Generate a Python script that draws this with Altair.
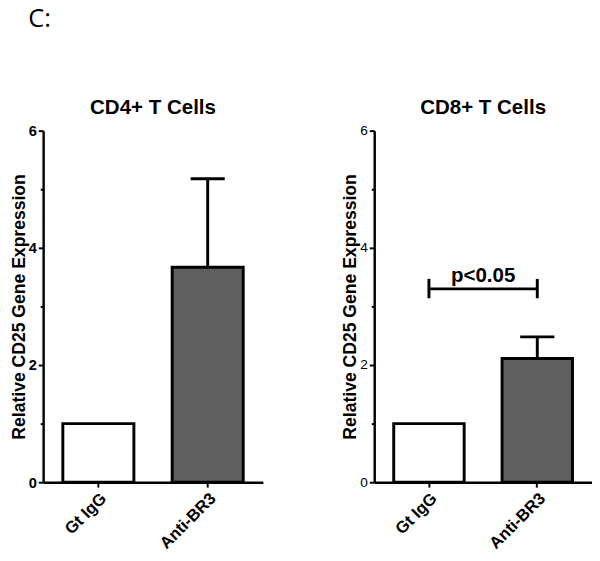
import altair as alt
import pandas as pd

# ---- data ----
categories = ["Gt IgG", "Anti-BR3"]
bar_fill = ["#ffffff", "#5f5f5f"]
cd4_mean = [1.0, 3.67]
cd4_upper = [1.0, 5.18]
cd8_mean = [1.0, 2.11]
cd8_upper = [1.0, 2.48]
y_ticks = [0, 1, 2, 3, 4, 5, 6]
sig_label = ["p<0.05"]
sig_y = [3.30]
sig_y_lo = [3.14]
sig_y_hi = [3.47]
sig_text_y = [3.42]

FONT = "Liberation Sans"
W_LEFT, W_RIGHT, H = 225, 223, 360


def panel(title, means, uppers, width, lab_weight, lab_size, sig=False):
    df = pd.DataFrame({"group": categories, "mean": means,
                       "upper": uppers, "fill": bar_fill})
    xscale = alt.Scale(paddingInner=0.35, paddingOuter=0.18)
    xaxis = alt.Axis(title=None, labelAngle=-45, labelFontSize=17,
                     labelFontWeight="bold", labelFont=FONT, labelColor="black",
                     tickColor="black", tickWidth=2, tickSize=5,
                     domainColor="black", domainWidth=2.5, labelPadding=3)
    yaxis = alt.Axis(title="Relative CD25 Gene Expression", values=y_ticks,
                     labelExpr="datum.value % 2 == 0 ? datum.label : ''",
                     tickSize={"condition": {"test": "datum.value % 2 == 1", "value": 3}, "value": 5},
                     labelFontSize=lab_size,
                     tickColor="black", tickWidth=2, domainColor="black",
                     domainWidth=2.5, labelFont=FONT,
                     labelFontWeight=lab_weight, labelColor="black", labelPadding=2,
                     titleFont=FONT, titleFontSize=18, titleFontWeight="bold",
                     titleColor="black", titlePadding=0, grid=False)
    yscale = alt.Scale(domain=[0, 6], nice=False)
    base = alt.Chart(df)
    x_enc = alt.X("group:N", sort=categories, scale=xscale, axis=xaxis)
    bars = base.mark_bar(stroke="black", strokeWidth=3).encode(
        x=x_enc,
        y=alt.Y("mean:Q", scale=yscale, axis=yaxis),
        fill=alt.Fill("fill:N", scale=None),
    )
    with_err = base.transform_filter("datum.upper > datum.mean")
    err = with_err.mark_rule(color="black", strokeWidth=3).encode(
        x=x_enc, y=alt.Y("mean:Q", scale=yscale, axis=yaxis), y2="upper:Q")
    cap = with_err.mark_tick(color="black", size=35, thickness=3, opacity=1).encode(
        x=x_enc, y=alt.Y("upper:Q", scale=yscale, axis=yaxis))
    layers = [bars, err, cap]
    if sig:
        sdf = pd.DataFrame({"group": categories, "y": sig_y * 2,
                            "lo": sig_y_lo * 2, "hi": sig_y_hi * 2})
        hline = alt.Chart(sdf).mark_line(color="black", strokeWidth=3).encode(
            x=x_enc, y=alt.Y("y:Q", scale=yscale, axis=yaxis))
        ends = alt.Chart(sdf).mark_rule(color="black", strokeWidth=3).encode(
            x=x_enc, y=alt.Y("lo:Q", scale=yscale, axis=yaxis), y2="hi:Q")
        tdf = pd.DataFrame({"label": sig_label, "y": sig_text_y})
        txt = alt.Chart(tdf).mark_text(font=FONT, fontSize=21, fontWeight="bold",
                                       baseline="alphabetic", align="center",
                                       color="black").encode(
            x=alt.value(width / 2), y=alt.Y("y:Q", scale=yscale, axis=yaxis),
            text="label:N")
        layers += [hline, ends, txt]
    return alt.layer(*layers).properties(
        width=width, height=H,
        title=alt.TitleParams(title, font=FONT, fontSize=21, fontWeight="bold",
                              color="black", anchor="middle", offset=6),
    )


left = panel("CD4+ T Cells", cd4_mean, cd4_upper, W_LEFT, "bold", 15)
right = panel("CD8+ T Cells", cd8_mean, cd8_upper, W_RIGHT, "normal", 14, sig=True)

chart = alt.hconcat(left, right, spacing=114, bounds="flush").properties(
    padding={"left": 2, "top": -8, "right": 0, "bottom": 0},
    background="white",
    title=alt.TitleParams("C:", font="Open Sans", fontSize=26, fontWeight="normal",
                          color="black", anchor="start", dx=18, offset=67),
).configure_view(stroke=None)

chart.save("out.html", embed_options={"renderer": "svg", "actions": False})
